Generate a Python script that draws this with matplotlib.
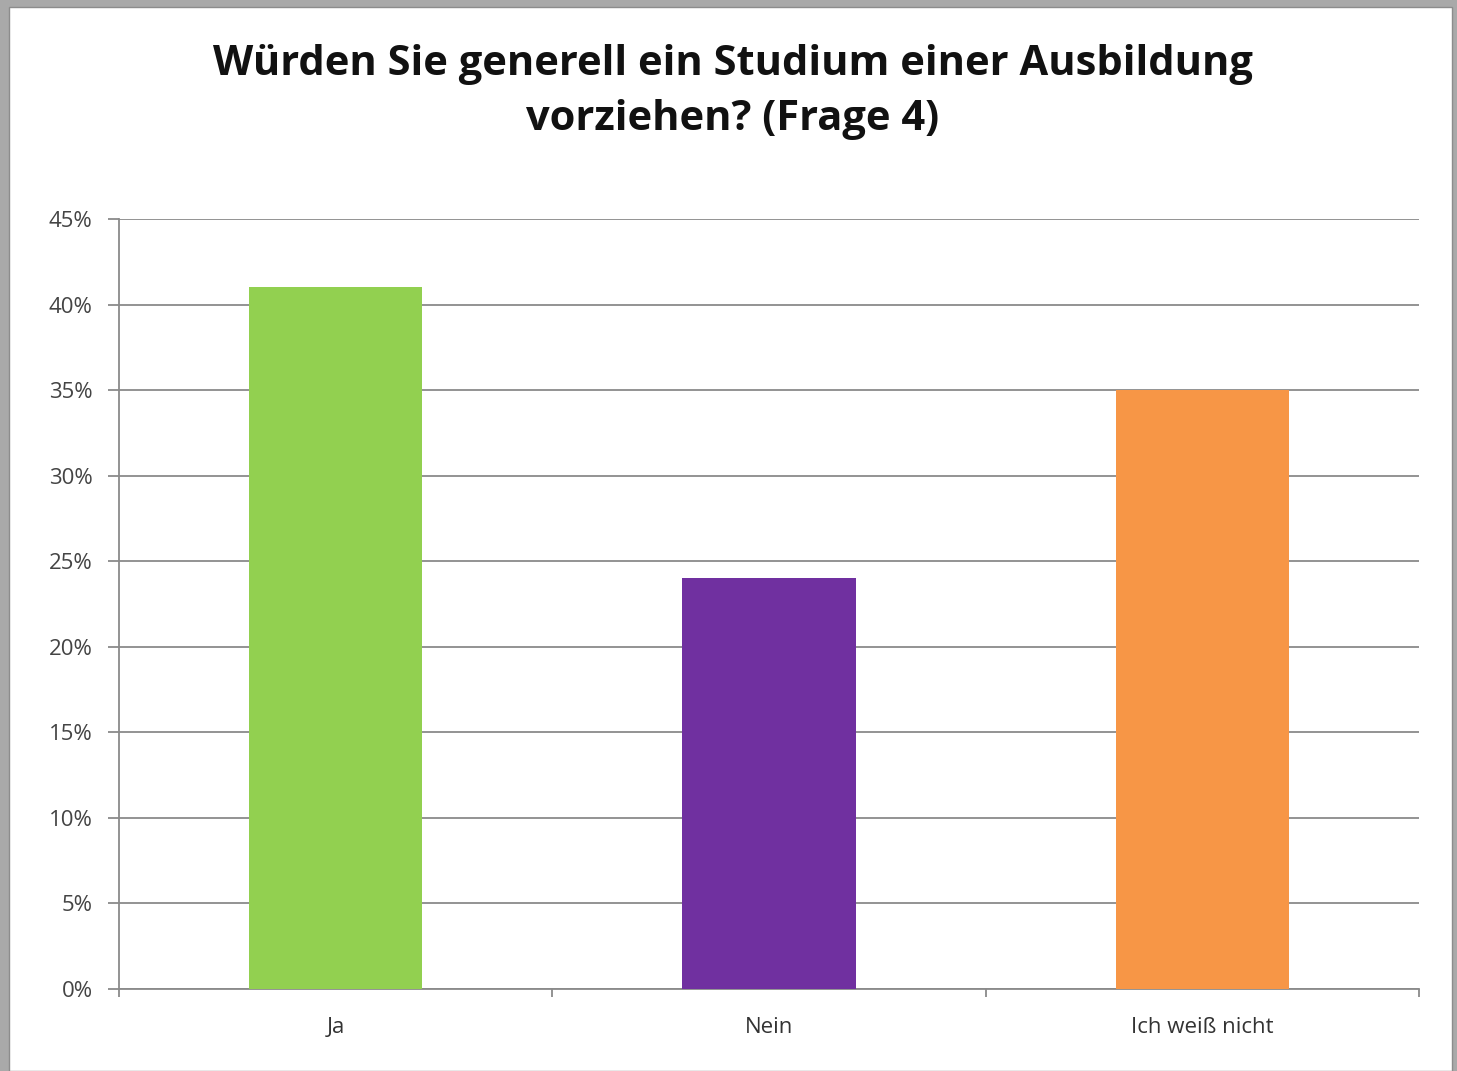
import matplotlib
matplotlib.use("Agg")
import matplotlib.pyplot as plt
from matplotlib.patches import Rectangle
from matplotlib.ticker import FixedLocator, PercentFormatter

categories = ["Ja", "Nein", "Ich weiß nicht"]
values = [41, 24, 35]
colors = ["#92D050", "#7030A0", "#F79646"]
yticks = [0, 5, 10, 15, 20, 25, 30, 35, 40, 45]
title = "Würden Sie generell ein Studium einer Ausbildung\nvorziehen? (Frage 4)"

plt.rcParams['font.family'] = ['Open Sans', 'DejaVu Sans']

W, H = 1457, 1071
fig = plt.figure(figsize=(W / 100, H / 100), dpi=100)
fig.patch.set_facecolor("#a9a9a9")
fig.add_artist(Rectangle((9 / W, 0), (1452 - 9) / W, (H - 7) / H,
                         transform=fig.transFigure, facecolor="white",
                         edgecolor="#8c8c8c", linewidth=1.0, zorder=0))

ax = fig.add_axes([119 / W, (H - 989) / H, (1419 - 119) / W, (989 - 219) / H])
ax.set_facecolor("none")
x = list(range(len(categories)))
ax.bar(x, values, width=0.40, color=colors, zorder=3)

ax.set_xlim(-0.5, len(categories) - 0.5)
ax.set_ylim(0, 45)
ax.set_yticks(yticks)
ax.yaxis.set_major_formatter(PercentFormatter(decimals=0))
ax.yaxis.grid(True, color="#8a8a8a", linewidth=1.3, zorder=1)

ax.xaxis.set_major_locator(FixedLocator([-0.5 + i for i in range(len(categories) + 1)]))
ax.set_xticklabels([])
ax.set_xticks(x, minor=True)
ax.set_xticklabels(categories, minor=True)
ax.tick_params(axis="x", which="minor", length=0, pad=20, labelsize=16, colors="#333333")
ax.tick_params(axis="x", which="major", length=6, color="#8a8a8a", width=1.3)
ax.tick_params(axis="y", length=8, color="#8a8a8a", width=1.3, labelsize=16,
               labelcolor="#444444", pad=11)

for s in ["top", "right"]:
    ax.spines[s].set_visible(False)
for s in ["left", "bottom"]:
    ax.spines[s].set_color("#8a8a8a")
    ax.spines[s].set_linewidth(1.3)

fig.text(733 / W, 1 - 92 / H, title, ha="center", va="center", fontsize=30,
         fontweight="bold", color="#111111", linespacing=1.45)

fig.savefig("out.png", dpi=100, facecolor=fig.get_facecolor())
